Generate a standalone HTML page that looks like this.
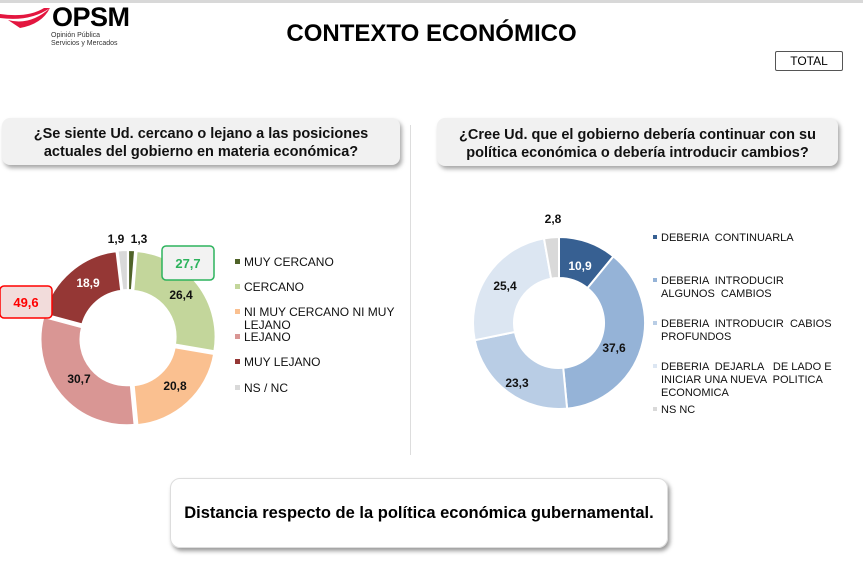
<!DOCTYPE html>
<html><head><meta charset="utf-8"><style>
body{margin:0;width:863px;height:564px;background:#fff;font-family:"Liberation Sans",Arial,sans-serif;position:relative;overflow:hidden}
.a{position:absolute}
.q{position:absolute;background:#f1f1f1;border-radius:8px;box-shadow:2px 3px 4px rgba(0,0,0,.35);font-weight:bold;font-size:14.5px;text-align:center;line-height:18px;color:#111}
</style></head><body>
<div class="a" style="left:0;top:0;width:863px;height:3px;background:#d8d8d8"></div>
<svg class="a" style="left:0;top:4px" width="60" height="30"><path d="M0,14 Q30,18 50,4 L44,4 Q28,14 0,10 Z" fill="#e3163f"/><path d="M8,16 Q30,22 50,4 Q42,20 20,24 Z" fill="#e3163f"/></svg>
<div class="a" style="left:52px;top:2px;font-size:27px;font-weight:bold;letter-spacing:-0.5px">OPSM</div>
<div class="a" style="left:51px;top:32px;font-size:7px;line-height:8px;color:#333">Opinión Pública<br>Servicios y Mercados</div>
<div class="a" style="left:0;top:20px;width:863px;text-align:center;font-size:24px;font-weight:bold">CONTEXTO ECONÓMICO</div>
<div class="a" style="left:775px;top:51px;width:66px;height:18px;border:1px solid #555;border-radius:2px;font-size:12px;text-align:center;line-height:18px">TOTAL</div>
<div class="q" style="left:2px;top:118px;width:398px;height:47px;padding-top:7px;box-sizing:border-box">¿Se siente Ud. cercano o lejano a las posiciones<br>actuales del gobierno en materia económica?</div>
<div class="q" style="left:437px;top:118px;width:401px;height:48px;padding-top:8px;box-sizing:border-box">¿Cree Ud. que el gobierno debería continuar con su<br>política económica o debería introducir cambios?</div>
<div class="a" style="left:410px;top:125px;width:1px;height:330px;background:#ddd"></div>
<div class="a" style="left:170px;top:478px;width:498px;height:70px;border:1px solid #ddd;border-radius:10px;box-shadow:2px 3px 4px rgba(0,0,0,.4);box-sizing:border-box;font-weight:bold;font-size:16.5px;text-align:center;line-height:68px">Distancia respecto de la política económica gubernamental.</div>
<svg id="s" class="a" style="left:0;top:0" width="863" height="564" font-family="Liberation Sans,Arial,sans-serif" font-weight="bold" font-size="12"></svg>
<script>
var s=document.getElementById('s'),h='';
function donut(cx,cy,R,r,vals,cols,gap){var a=0;vals.forEach(function(v,i){var a0=a,a1=a+v/100*2*Math.PI;a=a1;var m=(a0+a1)/2,dx=gap*Math.sin(m),dy=-gap*Math.cos(m);
function P(rr,t){return (cx+dx+rr*Math.sin(t)).toFixed(2)+','+(cy+dy-rr*Math.cos(t)).toFixed(2)}
var l=(a1-a0)>Math.PI?1:0;
h+='<path d="M'+P(R,a0)+' A'+R+','+R+' 0 '+l+' 1 '+P(R,a1)+' L'+P(r,a1)+' A'+r+','+r+' 0 '+l+' 0 '+P(r,a0)+' Z" fill="'+cols[i]+'" stroke="#fff" stroke-width="2"/>';});}
donut(128,338,86,46,[1.3,26.4,20.8,30.7,18.9,1.9],['#4f6228','#c3d69b','#fac090','#d99694','#953735','#d9d9d9'],2);
donut(559,323,86,45,[10.9,37.6,23.3,25.4,2.8],['#376092','#95b3d7','#b9cde5','#dce6f2','#d9d9d9'],0);
function t(x,y,s,c,fs){h+='<text x="'+x+'" y="'+y+'" text-anchor="middle" fill="'+(c||'#111')+'"'+(fs?' font-size="'+fs+'"':'')+'>'+s+'</text>';}
t(116,243,'1,9');t(139,243,'1,3');t(181,299,'26,4');t(175,390,'20,8');t(79,383,'30,7');t(88,287,'18,9','#fff');
h+='<rect x="162" y="246" width="52" height="34" rx="4" fill="#f2f2f2" stroke="#2db35d" stroke-width="1.5"/>';t(188,268,'27,7','#2db35d',13);
h+='<rect x="0" y="286" width="52" height="32" rx="4" fill="#f2dcdb" stroke="#ff0000" stroke-width="1.5"/>';t(26,307,'49,6','#ff0000',13);
t(553,223,'2,8');t(580,270,'10,9','#fff');t(614,352,'37,6');t(517,387,'23,3');t(505,290,'25,4');
var L=[[244,266,'#4f6228',['MUY CERCANO']],[244,291,'#c3d69b',['CERCANO']],[244,316,'#fac090',['NI MUY CERCANO NI MUY','LEJANO']],[244,341,'#d99694',['LEJANO']],[244,366,'#953735',['MUY LEJANO']],[244,392,'#d9d9d9',['NS / NC']]];
var R=[[661,241,'#376092',['DEBERIA  CONTINUARLA']],[661,284,'#95b3d7',['DEBERIA  INTRODUCIR','ALGUNOS  CAMBIOS']],[661,327,'#b9cde5',['DEBERIA  INTRODUCIR  CABIOS','PROFUNDOS']],[661,370,'#dce6f2',['DEBERIA  DEJARLA   DE LADO E','INICIAR UNA NUEVA  POLITICA','ECONOMICA']],[661,413,'#d9d9d9',['NS NC']]];
L.forEach(function(e){h+='<rect x="'+(e[0]-9)+'" y="'+(e[1]-7)+'" width="5" height="5" fill="'+e[2]+'"/>';e[3].forEach(function(s,j){h+='<text x="'+e[0]+'" y="'+(e[1]+j*13)+'" font-weight="normal" font-size="12" fill="#111" xml:space="preserve">'+s+'</text>';});});
R.forEach(function(e){h+='<rect x="'+(e[0]-8)+'" y="'+(e[1]-6)+'" width="4" height="4" fill="'+e[2]+'"/>';e[3].forEach(function(s,j){h+='<text x="'+e[0]+'" y="'+(e[1]+j*13)+'" font-weight="normal" font-size="11" fill="#111" xml:space="preserve">'+s+'</text>';});});
s.innerHTML=h;
</script>
</body></html>
